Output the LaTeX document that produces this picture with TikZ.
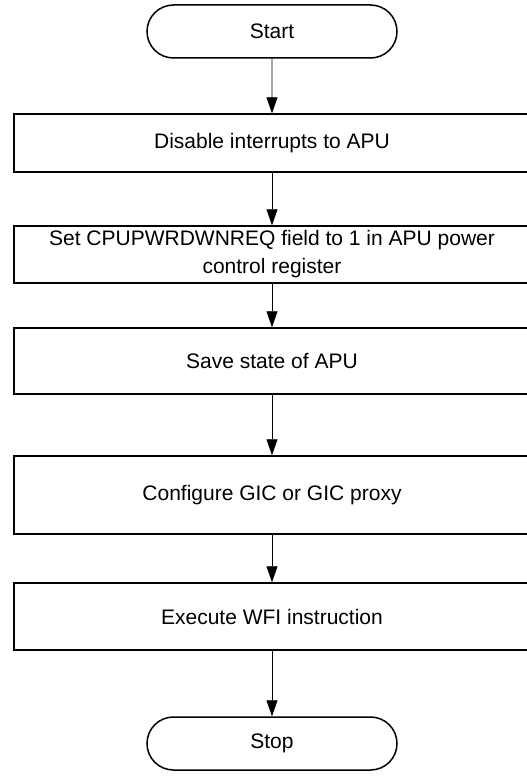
\documentclass[tikz,border=0pt]{standalone}
\usepackage{fontspec}
\setmainfont{Liberation Sans}
\usetikzlibrary{arrows.meta,shapes.misc}
\begin{document}
\begin{tikzpicture}[x=1pt,y=-1pt,
  every node/.style={font=\fontsize{21}{28}\selectfont},
  procbox/.style={draw, line width=1.5pt, rectangle, minimum width=516pt, inner sep=0pt, align=center},
  termbox/.style={draw, line width=1.5pt, rounded rectangle, minimum width=250pt, minimum height=53pt, inner sep=0pt},
  flow/.style={line width=0.9pt, -{Triangle[width=11pt,length=16pt]}}]
\useasboundingbox (0,0) rectangle (527,776);
\node[termbox] (start) at (272,31.5) {Start};
\node[procbox, minimum height=58pt] (b1) at (272,143) {Disable interrupts to APU};
\node[procbox, minimum height=57pt] (b2) at (272,254.5) {Set CPUPWRDWNREQ field to 1 in APU power\\control register};
\node[procbox, minimum height=66pt] (b3) at (272,361) {Save state of APU};
\node[procbox, minimum height=78pt] (b4) at (272,495) {Configure GIC or GIC proxy};
\node[procbox, minimum height=67pt] (b5) at (272,616.5) {Execute WFI instruction};
\node[termbox] (stop) at (272,743.5) {Stop};
\draw[flow] (start) -- (b1);
\draw[flow] (b1) -- (b2);
\draw[flow] (b2) -- (b3);
\draw[flow] (b3) -- (b4);
\draw[flow] (b4) -- (b5);
\draw[flow] (b5) -- (stop);
\end{tikzpicture}
\end{document}
